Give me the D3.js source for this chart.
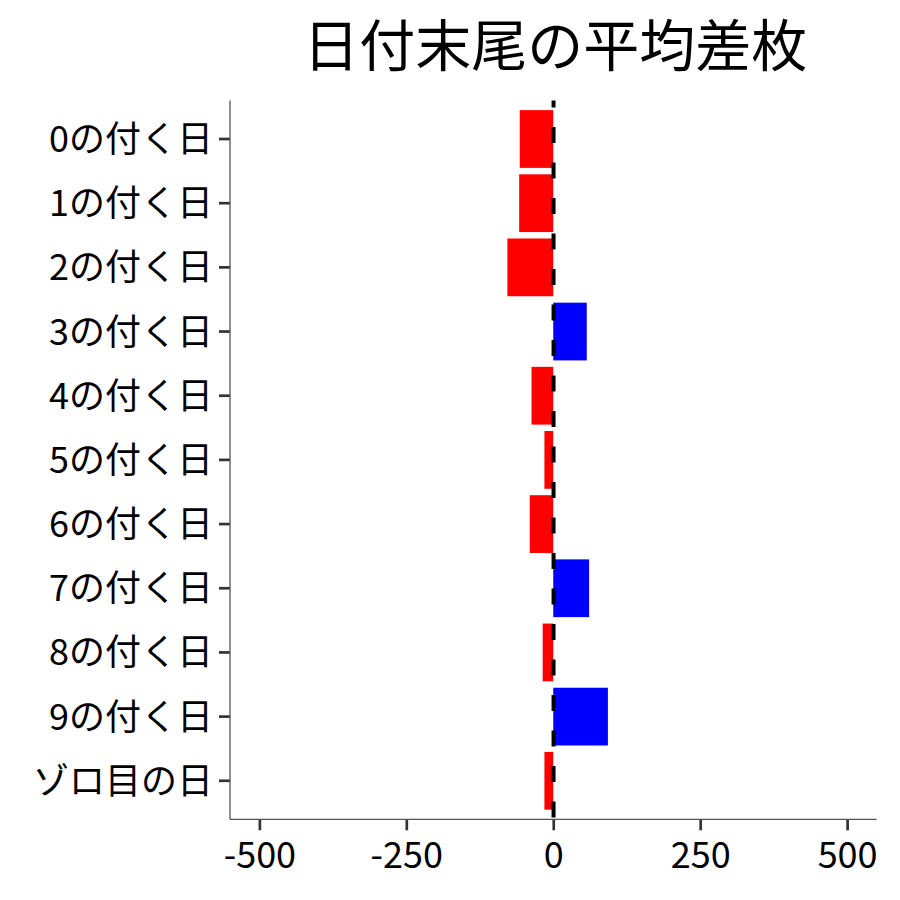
<!DOCTYPE html>
<html>
<head>
<meta charset="utf-8">
<script src="https://d3js.org/d3.v7.min.js"></script>
<style>
  body { margin: 0; background: #fff; }
  text { font-family: "Noto Sans CJK JP", "Noto Sans", sans-serif; }
</style>
</head>
<body>
<div id="chart"></div>
<script>
// Data
const categories = ["0の付く日", "1の付く日", "2の付く日", "3の付く日", "4の付く日",
    "5の付く日", "6の付く日", "7の付く日", "8の付く日", "9の付く日", "ゾロ目の日"];
const diffValues = [-57, -58, -78, 57, -37, -15, -40, 61, -18, 93, -15];
const xTicks = [-500, -250, 0, 250, 500];
const titleText = "日付末尾の平均差枚";

const width = 900, height = 900;
const panel = { left: 230, right: 876.5, top: 100.5, bottom: 819.3 };

const svg = d3.select("#chart").append("svg")
    .attr("width", width)
    .attr("height", height);

// Scales (x expanded 5% either side like ggplot)
const xScale = d3.scaleLinear()
    .domain([-550, 550])
    .range([panel.left, panel.right]);

const yScale = d3.scaleBand()
    .domain(categories)
    .range([panel.top, panel.bottom])
    .paddingInner(0.1)
    .paddingOuter(0.15);

const rows = categories.map((c, i) => ({ name: c, value: diffValues[i] }));

// Bars
svg.selectAll(".bar")
    .data(rows)
    .enter()
    .append("rect")
    .attr("class", "bar")
    .attr("x", d => xScale(Math.min(0, d.value)))
    .attr("width", d => Math.abs(xScale(d.value) - xScale(0)))
    .attr("y", d => yScale(d.name))
    .attr("height", yScale.bandwidth())
    .attr("fill", d => d.value < 0 ? "#ff0000" : "#0000ff");

// Zero reference line
svg.append("line")
    .attr("x1", xScale(0) + 0.3)
    .attr("x2", xScale(0) + 0.3)
    .attr("y1", panel.top)
    .attr("y2", panel.bottom)
    .style("stroke", "#000")
    .style("stroke-width", 4)
    .style("stroke-dasharray", "16,19.5")
    .style("stroke-dashoffset", 9);

// X axis
const xAxis = svg.append("g")
    .attr("transform", `translate(0, ${panel.bottom})`)
    .call(d3.axisBottom(xScale).tickValues(xTicks).tickSize(11).tickPadding(6).tickFormat(d => String(d)));

xAxis.select(".domain").remove();
xAxis.selectAll(".tick line").style("stroke", "#333").style("stroke-width", 2.7);
xAxis.selectAll(".tick text")
    .attr("dy", null)
    .attr("y", 49)
    .style("font-size", "36px")
    .style("fill", "#000")
    .style("font-family", "'Noto Sans CJK JP', sans-serif");

// Y axis
const yAxis = svg.append("g")
    .attr("transform", `translate(${panel.left}, 0)`)
    .call(d3.axisLeft(yScale).tickSize(11).tickPadding(6));

yAxis.select(".domain").remove();
yAxis.selectAll(".tick line").style("stroke", "#333").style("stroke-width", 2.7);
yAxis.selectAll(".tick text")
    .attr("dy", "0.36em")
    .style("font-size", "36px")
    .style("fill", "#000")
    .style("font-family", "'Noto Sans CJK JP', sans-serif");

// Axis lines
svg.append("line")
    .attr("x1", panel.left).attr("x2", panel.left)
    .attr("y1", panel.top).attr("y2", panel.bottom)
    .style("stroke", "#555").style("stroke-width", 1.3);
svg.append("line")
    .attr("x1", panel.left).attr("x2", panel.right)
    .attr("y1", panel.bottom).attr("y2", panel.bottom)
    .style("stroke", "#555").style("stroke-width", 1.3);

// Title
svg.append("text")
    .attr("x", (panel.left + panel.right) / 2 + 2)
    .attr("y", 66)
    .style("text-anchor", "middle")
    .style("font-size", "56px")
    .style("fill", "#000")
    .text(titleText);
</script>
</body>
</html>
